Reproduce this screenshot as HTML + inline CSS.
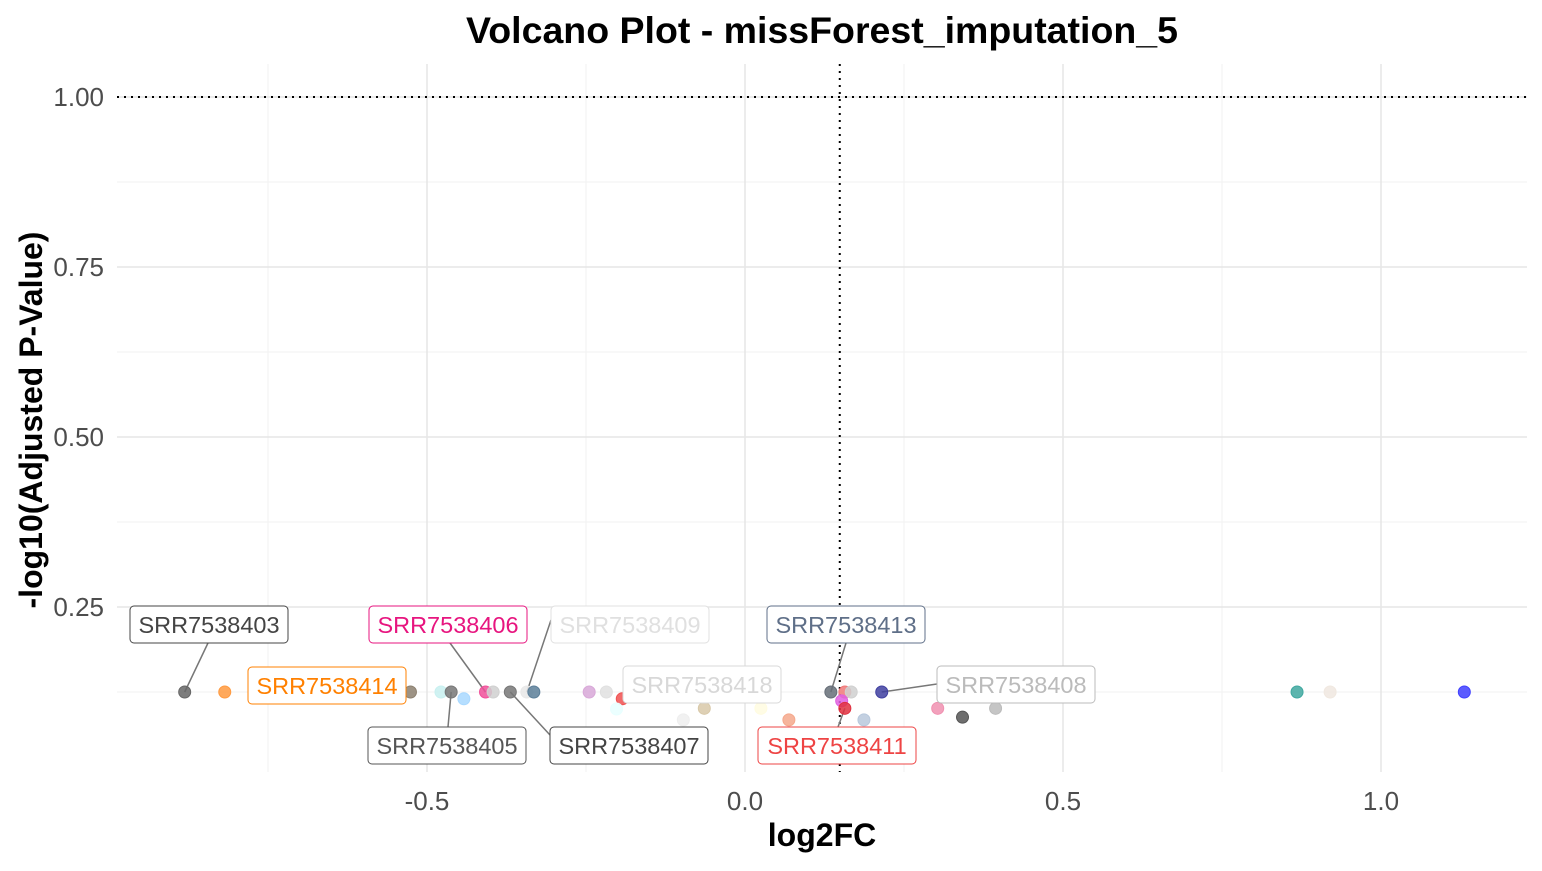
<!DOCTYPE html>
<html><head><meta charset="utf-8">
<style>
body{margin:0;background:#fff;font-family:"Liberation Sans",Arial,sans-serif;}
svg text{font-family:"Liberation Sans",Arial,sans-serif;}
</style></head>
<body>
<svg id="chart" width="1542" height="866" xmlns="http://www.w3.org/2000/svg">
<text x="822" y="43" text-anchor="middle" font-size="37.5" font-weight="bold" fill="#000">Volcano Plot - missForest_imputation_5</text>
<text x="822" y="846" text-anchor="middle" font-size="32" font-weight="bold" fill="#000">log2FC</text>
<text transform="translate(42,420) rotate(-90)" text-anchor="middle" font-size="32" font-weight="bold" fill="#000">-log10(Adjusted P-Value)</text>
<g id="grid"></g><g id="ref"></g><g id="lines"></g><g id="pts"></g><g id="labels"></g><g id="ticks"></g>
</svg>
<script>
const xs=[-0.881,-0.818,-0.526,-0.478,-0.462,-0.442,-0.408,-0.396,-0.369,-0.343,-0.332,-0.245,-0.218,-0.193,-0.202,-0.097,-0.064,0.025,0.069,0.135,0.157,0.167,0.152,0.157,0.187,0.215,0.303,0.342,0.394,0.868,0.920,1.131];
const ys=[0.125,0.125,0.125,0.125,0.125,0.115,0.125,0.125,0.125,0.125,0.125,0.125,0.125,0.115,0.100,0.084,0.101,0.101,0.084,0.125,0.125,0.125,0.112,0.101,0.084,0.125,0.101,0.088,0.101,0.125,0.125,0.125];
const cols=["#666666","#ff9a40","#8c8070","#c8f0f0","#777777","#a8d8ff","#f0509a","#d0d0d0","#777777","#e8e8e8","#5c7f99","#d8a8d8","#e0e0e0","#f05050","#e8ffff","#eeeeee","#d8c8a8","#fffce0","#f5a88c","#666e78","#f07878","#d0d0d0","#e060e0","#e03040","#b8c8dc","#4040a0","#f090b0","#555555","#bbbbbb","#40a8a0","#f0e8e0","#4040ff"];
const labNames=["SRR7538403","SRR7538414","SRR7538406","SRR7538409","SRR7538418","SRR7538413","SRR7538408","SRR7538405","SRR7538407","SRR7538411"];
const labPoint=[0,-1,6,9,-1,19,25,4,8,23];
const labColor=["#444","#ff8000","#e7157f","#e0e0e0","#d8d8d8","#5f6f88","#bbbbbb","#555","#444","#ee4444"];
const labBox=[[130,606],[248,667],[369,606],[551,606],[623,666],[767,606],[937,666],[368,727],[550,727],[758,727]];
const labAnchor=[[208,643],null,[450,643],[551,620],null,[846,643],[937,684],[448,727],[550,735],[838,727]];
const xTicks=[-0.5,0,0.5,1.0], xTickLab=["-0.5","0.0","0.5","1.0"];
const yTicks=[0.25,0.5,0.75,1.0], yTickLab=["0.25","0.50","0.75","1.00"];
const X=v=>745+v*636, Y=v=>777-v*680;
const NS="http://www.w3.org/2000/svg";
function mk(p,t,a){const e=document.createElementNS(NS,t);for(const k in a)e.setAttribute(k,a[k]);document.getElementById(p).appendChild(e);return e;}
const L=117,R=1527,T=64,B=772;
[-0.75,-0.25,0.25,0.75].forEach(v=>{const e=mk('grid','line',{x1:X(v),x2:X(v),y1:T,y2:B,stroke:'#f2f2f2','stroke-width':1});});
[0.125,0.375,0.625,0.875].forEach(v=>{const e=mk('grid','line',{x1:L,x2:R,y1:Y(v),y2:Y(v),stroke:'#f2f2f2','stroke-width':1});});
xTicks.forEach((v,i)=>{const g=mk('grid','line',{x1:X(v),x2:X(v),y1:T,y2:B,stroke:'#e6e6e6','stroke-width':1.5});
const t=mk('ticks','text',{x:X(v),y:810,'text-anchor':'middle','font-size':26,fill:'#4d4d4d'});t.textContent=xTickLab[i];});
yTicks.forEach((v,i)=>{const g=mk('grid','line',{x1:L,x2:R,y1:Y(v),y2:Y(v),stroke:'#e6e6e6','stroke-width':1.5});
const t=mk('ticks','text',{x:104,y:Y(v)+9,'text-anchor':'end','font-size':26,fill:'#4d4d4d'});t.textContent=yTickLab[i];});
let r=mk('ref','line',{x1:L,x2:R,y1:Y(1),y2:Y(1),stroke:'#000','stroke-width':2,'stroke-dasharray':'2,5'});

r=mk('ref','line',{x1:X(0.149),x2:X(0.149),y1:T,y2:B,stroke:'#000','stroke-width':2,'stroke-dasharray':'2,5'});

xs.forEach((v,i)=>{const c=mk('pts','circle',{cx:X(v),cy:Y(ys[i]),r:6,fill:cols[i],'fill-opacity':0.85,stroke:cols[i],'stroke-width':1});
});
labNames.forEach((n,i)=>{const [bx,by]=labBox[i],w=158,h=37;const p=labPoint[i];
if(p>=0&&labAnchor[i]){const px=X(xs[p]),py=Y(ys[p]);
const ln=mk('lines','line',{x1:px,y1:py,x2:labAnchor[i][0],y2:labAnchor[i][1],stroke:'#777','stroke-width':1.5});}
const rc=mk('labels','rect',{x:bx,y:by,width:w,height:h,rx:4,fill:'#fff',stroke:labColor[i],'stroke-width':1});

const t=mk('labels','text',{x:bx+w/2,y:by+27,'text-anchor':'middle','font-size':23.5,fill:labColor[i]});t.textContent=n;
});
</script>
</body></html>
